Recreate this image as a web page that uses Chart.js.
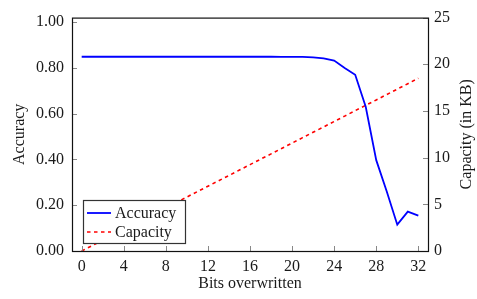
<!DOCTYPE html>
<html>
<head>
<meta charset="utf-8">
<script src="https://cdn.jsdelivr.net/npm/chart.js@4"></script>
<style>
body{margin:0;background:#fff;}
#wrap{width:477px;height:299px;}
</style>
</head>
<body>
<div id="wrap"><canvas id="myChart" width="477" height="299"></canvas></div>
<script>
'use strict';
// bits overwritten (x values)
let bits=[0,1,2,3,4,5,6,7,8,9,10,11,12,13,14,15,16,17,18,19,20,21,22,23,24,25,26,27,28,29,30,31,32];
let accuracy=[0.849,0.849,0.849,0.849,0.849,0.849,0.849,0.849,0.849,0.849,0.849,0.849,0.849,0.849,0.849,0.849,0.849,0.849,0.849,0.848,0.848,0.848,0.846,0.842,0.832,0.800,0.770,0.630,0.397,0.260,0.115,0.172,0.155];
let capacity=[0,0.58,1.16,1.73,2.31,2.89,3.47,4.05,4.62,5.2,5.78,6.36,6.94,7.51,8.09,8.67,9.25,9.83,10.4,10.98,11.56,12.14,12.72,13.29,13.87,14.45,15.03,15.61,16.18,16.76,17.34,17.92,18.5];
let xTicks=[0,4,8,12,16,20,24,28,32];
let accTicks=[0,0.2,0.4,0.6,0.8,1.0];
let capTicks=[0,5,10,15,20,25];

const FONT='"Liberation Serif", "Times New Roman", serif';
const TXT='#1a1a1a';

function pts(ys)
{
    return bits.map((b,i)=>({x:b,y:ys[i]}));
}

// frame, inside tick marks, right title and legend box
let framePlugin={
    id:'frame',
    afterDatasetsDraw(chart)
    {
        let ctx=chart.ctx;
        let a=chart.chartArea;
        let sx=chart.scales.x, sl=chart.scales.yAcc, sr=chart.scales.yCap;
        ctx.save();
        ctx.strokeStyle='#888';
        ctx.lineWidth=1;
        ctx.beginPath();
        xTicks.forEach(v=>{let px=Math.round(sx.getPixelForValue(v))+0.5;ctx.moveTo(px,a.bottom);ctx.lineTo(px,a.bottom-5);});
        accTicks.forEach(v=>{let py=Math.round(sl.getPixelForValue(v))+0.5;ctx.moveTo(a.left,py);ctx.lineTo(a.left+5,py);});
        capTicks.forEach(v=>{let py=Math.round(sr.getPixelForValue(v))+0.5;ctx.moveTo(a.right,py);ctx.lineTo(a.right-5,py);});
        ctx.stroke();

        ctx.strokeStyle='#111';
        ctx.lineWidth=1.2;
        ctx.strokeRect(a.left+0.5,a.top+0.5,a.right-a.left,a.bottom-a.top);

        // right axis title, reading upwards
        ctx.fillStyle=TXT;
        ctx.font='16px '+FONT;
        ctx.textAlign='center';
        ctx.textBaseline='middle';
        ctx.translate(466.5,(a.top+a.bottom)/2);
        ctx.rotate(-Math.PI/2);
        ctx.fillText('Capacity (in KB)',0,0);
        ctx.restore();

        // legend
        ctx.save();
        let lx=83, ly=200, lw=102, lh=43;
        ctx.fillStyle='#fff';
        ctx.fillRect(lx,ly,lw,lh);
        ctx.strokeStyle='#333';
        ctx.lineWidth=1.2;
        ctx.strokeRect(lx+0.5,ly+0.5,lw,lh);
        ctx.font='16px '+FONT;
        ctx.textBaseline='middle';
        ctx.textAlign='left';
        chart.data.datasets.forEach((ds,i)=>{
            let cy=ly+13+i*19;
            ctx.strokeStyle=ds.borderColor;
            ctx.lineWidth=ds.borderWidth;
            ctx.setLineDash(ds.borderDash||[]);
            ctx.beginPath();
            ctx.moveTo(87,cy);
            ctx.lineTo(111,cy);
            ctx.stroke();
            ctx.setLineDash([]);
            ctx.fillStyle=TXT;
            ctx.fillText(ds.label,115,cy+1);
        });
        ctx.restore();
    }
};

let ctx=document.getElementById('myChart').getContext('2d');
let myChart=new Chart(ctx,{
    type:'line',
    data:{
        datasets:[{
            label:'Accuracy',
            data:pts(accuracy),
            yAxisID:'yAcc',
            borderColor:'#0000ff',
            borderWidth:1.8,
            pointRadius:0,
            tension:0,
            fill:false
        },{
            label:'Capacity',
            data:pts(capacity),
            yAxisID:'yCap',
            borderColor:'#ff0000',
            borderWidth:1.6,
            borderDash:[3.5,3.5],
            pointRadius:0,
            tension:0,
            fill:false
        }]
    },
    options:{
        responsive:false,
        animation:false,
        devicePixelRatio:1,
        layout:{padding:{top:14,left:0,right:0,bottom:0}},
        plugins:{legend:{display:false},tooltip:{enabled:false}},
        scales:{
            x:{
                type:'linear',
                position:'bottom',
                min:-0.92,
                max:32.92,
                grid:{display:false,drawTicks:false},
                border:{display:false},
                afterBuildTicks:s=>{s.ticks=xTicks.map(v=>({value:v}));},
                afterFit:s=>{s.height=48;},
                ticks:{padding:6,color:TXT,font:{family:FONT,size:16},maxRotation:0,autoSkip:false},
                title:{display:true,text:'Bits overwritten',color:TXT,font:{family:FONT,size:16},padding:{top:0,bottom:6}}
            },
            yAcc:{
                type:'linear',
                position:'left',
                min:0,
                max:1.02,
                grid:{display:false,drawTicks:false},
                border:{display:false},
                afterBuildTicks:s=>{s.ticks=accTicks.map(v=>({value:v}));},
                afterFit:s=>{s.width=72;},
                ticks:{padding:8,color:TXT,font:{family:FONT,size:16},callback:v=>v.toFixed(2)},
                title:{display:true,text:'Accuracy',color:TXT,font:{family:FONT,size:16},padding:{top:10.4,bottom:0}}
            },
            yCap:{
                type:'linear',
                position:'right',
                min:0,
                max:25,
                grid:{display:false,drawTicks:false},
                border:{display:false},
                afterBuildTicks:s=>{s.ticks=capTicks.map(v=>({value:v}));},
                afterFit:s=>{s.width=49;},
                ticks:{padding:6,color:TXT,font:{family:FONT,size:16}}
            }
        }
    },
    plugins:[framePlugin]
});
</script>
</body>
</html>
